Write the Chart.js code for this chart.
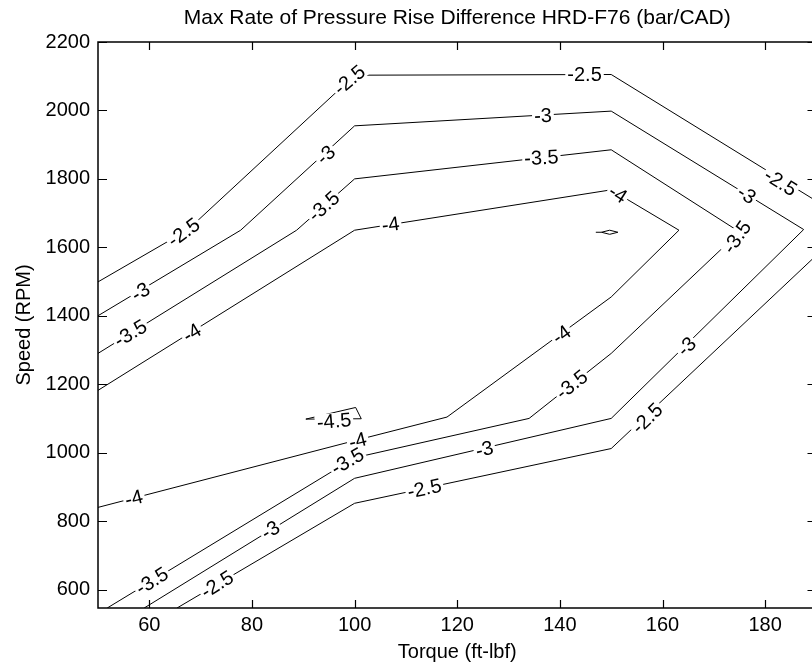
<!DOCTYPE html>
<html>
<head>
<meta charset="utf-8">
<script src="https://cdn.jsdelivr.net/npm/chart.js@4.4.0/dist/chart.umd.min.js"></script>
<style>
  html, body { margin: 0; padding: 0; background: #fff; overflow: hidden; }
  #wrap { width: 812px; height: 668px; overflow: hidden; }
  canvas { display: block; }
</style>
</head>
<body>
<div id="wrap"><canvas id="contourChart" width="840" height="668" style="width:840px;height:668px"></canvas></div>
<script>
var FONT = '"Liberation Sans", Arial, sans-serif';

var chartTitle = 'Max Rate of Pressure Rise Difference HRD-F76 (bar/CAD)';
var xTitle = 'Torque (ft-lbf)';
var yTitle = 'Speed (RPM)';

var xTicks = [60, 80, 100, 120, 140, 160, 180];
var yTicks = [600, 800, 1000, 1200, 1400, 1600, 1800, 2000, 2200];

// contour lines, torque (ft-lbf) vs speed (RPM)
var c25upperX = [50, 67.4, 100, 150, 190];
var c25upperY = [1499, 1650, 2103, 2105, 1735];

var c25lowerX = [65.4, 100, 150, 190];
var c25lowerY = [546, 852, 1012, 1577];

var c3X = [50, 77.8, 100, 150, 187.5, 150, 100, 59];
var c3Y = [1400, 1650, 1955, 1998, 1652, 1100, 925, 546];

var c35X = [50, 88.7, 100, 150, 175, 150, 134, 100, 51.8];
var c35Y = [1290, 1650, 1800, 1885, 1645, 1290, 1100, 985, 546];

var c4X = [50, 100, 150, 163.2, 150, 118, 100, 50];
var c4Y = [1182, 1650, 1768, 1650, 1455, 1104, 1035, 840];

var c45aX = [90.5, 100.2, 101.3, 90.5];
var c45aY = [1098, 1132, 1099, 1098];

var c45bX = [147, 148.1, 149.7, 151.3, 149.7, 148.1];
var c45bY = [1644, 1644, 1650, 1644, 1638, 1644];

// inline contour labels
var labelText  = ['-2.5', '-3', '-3.5', '-4', '-3', '-3.5', '-2.5', '-2.5', '-3', '-3.5',
                  '-4', '-4', '-2.5', '-3', '-3.5', '-3', '-2.5', '-4', '-3.5', '-3',
                  '-2.5', '-4', '-3.5', '-4.5', '-4', '-3', '-3.5', '-2.5'];
var labelX     = [66.7, 58.3, 56.3, 68.3, 94.4, 94, 99, 144.8, 136.7, 136.4,
                  107, 151.3, 183, 176.4, 174.5, 164.7, 157, 140.3, 142.3, 125.3,
                  113.6, 100.6, 98.6, 96, 57, 83.6, 60.5, 73.2];
var labelY     = [1644, 1470, 1349, 1350, 1870, 1720, 2089, 2105, 1985, 1862,
                  1667, 1756, 1790, 1754, 1630, 1310, 1100, 1345, 1199, 1010,
                  895, 1035, 975, 1092, 867, 774, 625, 615];
var labelAngle = [-36, -31, -31, -31, -42, -42, -40, 0, -3, -3,
                  -8, 32, 32, 32, -55, -44, -44, -36, -38, -14,
                  -12, -14, -30, -5, -14, -32, -32, -32];

function toPoints(xs, ys) {
    return xs.map(function (x, i) { return { x: x, y: ys[i] }; });
}

function contourLine(xs, ys) {
    return {
        data: toPoints(xs, ys),
        showLine: true,
        borderColor: '#000',
        borderWidth: 1,
        pointRadius: 0,
        fill: false,
        tension: 0
    };
}

var matlabAxes = {
    id: 'matlabAxes',
    afterDatasetsDraw: function (chart) {
        var ctx = chart.ctx, xs = chart.scales.x, ys = chart.scales.y;
        ctx.save();
        ctx.font = '20px ' + FONT;
        ctx.textAlign = 'center';
        ctx.textBaseline = 'middle';
        for (var i = 0; i < labelText.length; i++) {
            var px = xs.getPixelForValue(labelX[i]);
            var py = ys.getPixelForValue(labelY[i]);
            var w = ctx.measureText(labelText[i]).width;
            ctx.save();
            ctx.translate(px, py);
            ctx.rotate(labelAngle[i] * Math.PI / 180);
            ctx.fillStyle = '#fff';
            ctx.fillRect(-w / 2 - 2, -8, w + 4, 16);
            ctx.fillStyle = '#000';
            ctx.fillText(labelText[i], 0, 1);
            ctx.restore();
        }
        ctx.restore();
    },
    afterDraw: function (chart) {
        var ctx = chart.ctx, a = chart.chartArea;
        var xs = chart.scales.x, ys = chart.scales.y;
        ctx.save();
        ctx.strokeStyle = '#000';
        ctx.lineWidth = 1.5;
        ctx.strokeRect(a.left, a.top, a.right - a.left, a.bottom - a.top);
        ctx.beginPath();
        xTicks.forEach(function (v) {
            var p = Math.round(xs.getPixelForValue(v)) + 0.5;
            ctx.moveTo(p, a.bottom); ctx.lineTo(p, a.bottom - 8);
            ctx.moveTo(p, a.top); ctx.lineTo(p, a.top + 8);
        });
        yTicks.forEach(function (v) {
            var p = Math.round(ys.getPixelForValue(v)) + 0.5;
            ctx.moveTo(a.left, p); ctx.lineTo(a.left + 9, p);
            ctx.moveTo(a.right, p); ctx.lineTo(a.right - 9, p);
        });
        ctx.lineWidth = 1.2;
        ctx.stroke();

        ctx.fillStyle = '#000';
        ctx.textAlign = 'center';
        ctx.textBaseline = 'middle';
        var cx = (a.left + a.right) / 2;
        ctx.font = '21px ' + FONT;
        ctx.fillText(chartTitle, cx, 18);
        ctx.font = '20px ' + FONT;
        ctx.fillText(xTitle, cx, 652);
        ctx.translate(24, (a.top + a.bottom) / 2);
        ctx.rotate(-Math.PI / 2);
        ctx.fillText(yTitle, 0, 0);
        ctx.restore();
    }
};

function plainTick(value) { return String(value); }

var ctx = document.getElementById('contourChart').getContext('2d');
var contourChart = new Chart(ctx, {
    type: 'scatter',
    data: {
        datasets: [
            contourLine(c25upperX, c25upperY),
            contourLine(c25lowerX, c25lowerY),
            contourLine(c3X, c3Y),
            contourLine(c35X, c35Y),
            contourLine(c4X, c4Y),
            contourLine(c45aX, c45aY),
            contourLine(c45bX, c45bY)
        ]
    },
    options: {
        responsive: false,
        animation: false,
        devicePixelRatio: 1,
        layout: { padding: { top: 42, right: 23.5, left: 0, bottom: 0 } },
        plugins: { legend: { display: false }, tooltip: { enabled: false } },
        scales: {
            x: {
                type: 'linear', min: 50, max: 190,
                grid: { display: false, drawTicks: false },
                border: { display: false },
                ticks: { color: '#000', font: { family: FONT, size: 20 }, padding: 5, callback: plainTick },
                afterBuildTicks: function (s) { s.ticks = xTicks.map(function (v) { return { value: v }; }); },
                afterFit: function (s) { s.height = 60; }
            },
            y: {
                type: 'linear', min: 546, max: 2200,
                grid: { display: false, drawTicks: false },
                border: { display: false },
                ticks: { color: '#000', font: { family: FONT, size: 20 }, padding: 8, callback: plainTick },
                afterBuildTicks: function (s) { s.ticks = yTicks.map(function (v) { return { value: v }; }); },
                afterFit: function (s) { s.width = 98; }
            }
        }
    },
    plugins: [matlabAxes]
});
</script>
</body>
</html>
